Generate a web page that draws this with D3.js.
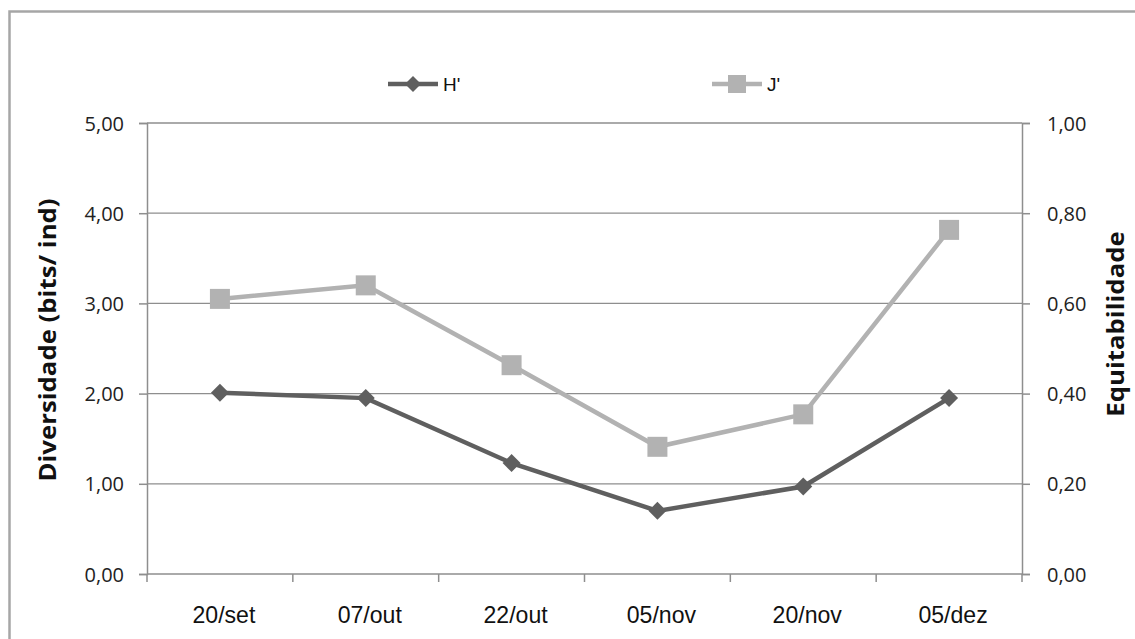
<!DOCTYPE html>
<html><head><meta charset="utf-8">
<script src="https://cdn.jsdelivr.net/npm/d3@7"></script>
<style>body{margin:0;background:#fff}svg{display:block}</style>
</head><body><svg id="c" width="1135" height="639"></svg>
<script>
const categories = ["20/set","07/out","22/out","05/nov","20/nov","05/dez"];
const hValues = [2.01, 1.95, 1.23, 0.70, 0.97, 1.95];
const jValues = [0.61, 0.64, 0.463, 0.282, 0.354, 0.763];
const leftTicks = [0,1,2,3,4,5];
const rightTicks = [0,0.2,0.4,0.6,0.8,1.0];
const seriesNames = ["H'","J'"];

const svg = d3.select("#c");
const L = 147, R = 1022, T = 123, B = 574;
const fmt = v => d3.format(".2f")(v).replace(".", ",");
const gridC = "#8e8e8e", hC = "#5f5f5f", jC = "#b2b2b2";

// outer border
svg.append("path").attr("d","M9.5,645 V11.5 H1140").attr("fill","none").attr("stroke","#a6a6a6").attr("stroke-width",2.5);

const x = d3.scaleBand().domain(categories).range([L,R]);
const yL = d3.scaleLinear().domain([0,5]).range([B,T]);
const yR = d3.scaleLinear().domain([0,1]).range([B,T]);

// gridlines
svg.append("g").selectAll("line").data(leftTicks.slice(1)).join("line")
  .attr("x1",L).attr("x2",R).attr("y1",d=>yL(d)).attr("y2",d=>yL(d))
  .attr("stroke",gridC).attr("stroke-width",1.3);

// left axis
const gl = svg.append("g").attr("transform",`translate(${L},0)`)
  .call(d3.axisLeft(yL).tickValues(leftTicks).tickFormat(fmt).tickSize(8).tickPadding(15));
gl.selectAll("path,line").attr("stroke",gridC).attr("stroke-width",1.5);
gl.selectAll("text").attr("font-family","Open Sans").attr("font-size",20).attr("fill","#222").attr("dy","0.35em");

// right axis
const gr = svg.append("g").attr("transform",`translate(${R},0)`)
  .call(d3.axisRight(yR).tickValues(rightTicks).tickFormat(fmt).tickSize(8).tickPadding(17));
gr.selectAll("path,line").attr("stroke",gridC).attr("stroke-width",1.5);
gr.selectAll("text").attr("font-family","Open Sans").attr("font-size",20).attr("fill","#222").attr("dy","0.35em");

// bottom axis
const gb = svg.append("g").attr("transform",`translate(0,${B})`);
gb.append("line").attr("x1",L).attr("x2",R).attr("stroke",gridC).attr("stroke-width",1.5);
const bounds = categories.map(c=>x(c)).concat([R]);
gb.selectAll("line.t").data(bounds).join("line").attr("class","t")
  .attr("x1",d=>d).attr("x2",d=>d).attr("y1",0).attr("y2",8).attr("stroke",gridC).attr("stroke-width",1.5);
gb.selectAll("text").data(categories).join("text")
  .attr("transform",d=>`translate(${x(d)+x.bandwidth()/2+4},${49}) scale(1.05,1.05)`)
  .attr("text-anchor","middle").attr("font-family","Liberation Sans Narrow, Liberation Sans").attr("font-size",22).attr("fill","#111")
  .text(d=>d);

// axis titles
svg.append("text").attr("transform","translate(56,340) rotate(-90) scale(1.12,1)").attr("text-anchor","middle")
  .attr("font-family","Open Sans").attr("font-weight","bold").attr("font-size",23).attr("fill","#111")
  .text("Diversidade (bits/ ind)");
svg.append("text").attr("transform","translate(1124,324) rotate(-90) scale(1.12,1)").attr("text-anchor","middle")
  .attr("font-family","Open Sans").attr("font-weight","bold").attr("font-size",23).attr("fill","#111")
  .text("Equitabilidade");

const cx = c => x(c)+x.bandwidth()/2;
// J' series
svg.append("path").datum(jValues).attr("fill","none").attr("stroke",jC).attr("stroke-width",4.5)
  .attr("d",d3.line().x((d,i)=>cx(categories[i])).y(d=>yR(d)));
svg.append("g").selectAll("rect").data(jValues).join("rect")
  .attr("x",(d,i)=>cx(categories[i])-10).attr("y",d=>yR(d)-10).attr("width",20).attr("height",20).attr("fill",jC);
// H' series
svg.append("path").datum(hValues).attr("fill","none").attr("stroke",hC).attr("stroke-width",4.5)
  .attr("d",d3.line().x((d,i)=>cx(categories[i])).y(d=>yL(d)));
const diamond = s => `M0,${-s} L${s},0 L0,${s} L${-s},0 Z`;
svg.append("g").selectAll("path").data(hValues).join("path")
  .attr("transform",(d,i)=>`translate(${cx(categories[i])},${yL(d)})`).attr("d",diamond(9)).attr("fill",hC);

// legend
const lg = svg.append("g");
lg.append("line").attr("x1",388).attr("x2",438).attr("y1",84).attr("y2",84).attr("stroke",hC).attr("stroke-width",4.5);
lg.append("path").attr("transform","translate(413,84)").attr("d",diamond(8)).attr("fill",hC);
lg.append("text").attr("x",443).attr("y",91).attr("font-family","Liberation Sans").attr("font-size",19).attr("fill","#111").text(seriesNames[0]);
lg.append("line").attr("x1",712).attr("x2",762).attr("y1",84).attr("y2",84).attr("stroke",jC).attr("stroke-width",4.5);
lg.append("rect").attr("x",728).attr("y",75).attr("width",18).attr("height",18).attr("fill",jC);
lg.append("text").attr("x",767).attr("y",91).attr("font-family","Liberation Sans").attr("font-size",19).attr("fill","#111").text(seriesNames[1]);
</script></body></html>
